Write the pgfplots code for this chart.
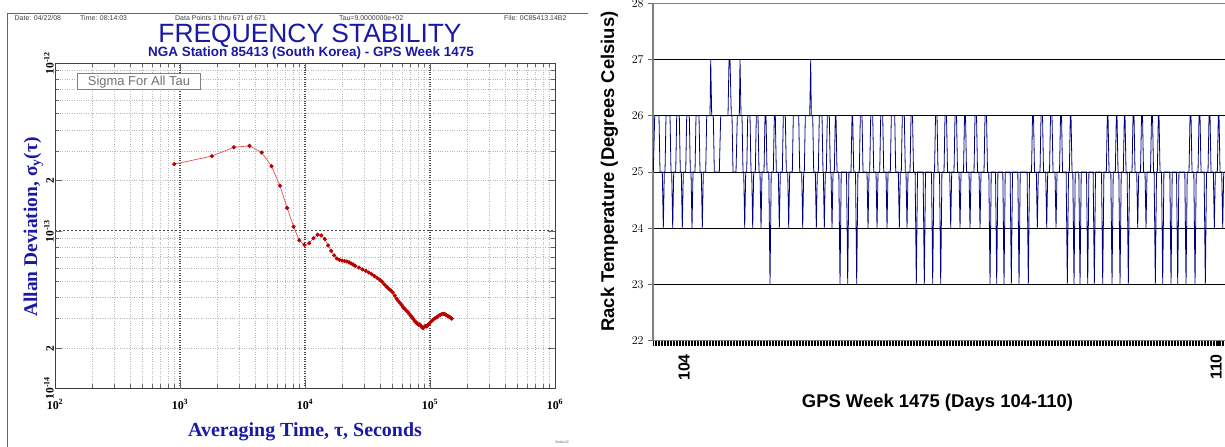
\documentclass[border=0pt]{standalone}
\usepackage{fontspec}
\setmainfont{Liberation Serif}
\newfontfamily\arial{Liberation Sans}
\usepackage{pgfplots}
\pgfplotsset{compat=1.18}
\definecolor{ttl}{RGB}{25,25,165}
\definecolor{navy}{RGB}{0,0,128}
\definecolor{dred}{RGB}{185,0,0}
\definecolor{lred}{RGB}{228,80,80}
\newcommand{\fs}[1]{\fontsize{#1}{#1}\selectfont}
\newcommand{\tp}[1]{\textbf{10\textsuperscript{#1}}}
\begin{document}
\begin{tikzpicture}[x=1bp,y=1bp]
\useasboundingbox (0,0) rectangle (1225,447);
% ---------------- left panel frame and texts
\draw[black!60, line width=0.8bp] (7,0) -- (7,434) -- (588,434);
\begin{scope}[every node/.style={anchor=base west, inner sep=0, text=black!75}]
\node at (14.5,426.5) {\arial\fs{7}Date: 04/22/08};
\node at (80,426.5) {\arial\fs{7}Time: 08:14:03};
\node at (175,426.5) {\arial\fs{7}Data Points 1 thru 671 of 671};
\node at (339,426.5) {\arial\fs{7}Tau=9.0000000e+02};
\node at (504,426.5) {\arial\fs{7}File: 0C85413.14B2};
\end{scope}
\node[anchor=base, text=ttl, inner sep=0, text height=19bp, text depth=0bp] at (310,404) {\arial\fs{26.5}FREQUENCY STABILITY};
\node[anchor=base, text=ttl, inner sep=0] at (311,390) {\arial\bfseries\fs{13.5}NGA Station 85413 (South Korea) - GPS Week 1475};
\node[rotate=90, anchor=base, text=ttl, inner sep=0] at (37,220) {\bfseries\fs{19.5}Allan Deviation, σ\textsubscript{y}(τ)};
\node[anchor=base, text=ttl, inner sep=0] at (305,10) {\bfseries\fs{20}Averaging Time, τ, Seconds};
\node[anchor=base, text=black!60, inner sep=0] at (562,3) {\arial\fs{3.5}Stable32};

\begin{axis}[
  at={(55bp,59bp)}, anchor=south west, scale only axis,
  width=500bp, height=325bp,
  xmode=log, ymode=log,
  xmin=100, xmax=1000000, ymin=1.16e-14, ymax=1e-12,
  axis line style={black!75, line width=1bp},
  tick align=inside,
  xtick={100,1000,10000,100000,1000000},
  xticklabels={\tp{2},\tp{3},\tp{4},\tp{5},\tp{6}},
  ytick={1.16e-14,2e-14,1e-13,2e-13,1e-12},
  yticklabels={\tp{-14},\textbf{2},\tp{-13},\textbf{2},\tp{-12}},
  minor xtick={200,300,400,500,600,700,800,900,2000,3000,4000,5000,6000,7000,8000,9000,20000,30000,40000,50000,60000,70000,80000,90000,200000,300000,400000,500000,600000,700000,800000,900000},
  minor ytick={2e-14,3e-14,4e-14,5e-14,6e-14,7e-14,8e-14,9e-14,2e-13,3e-13,4e-13,5e-13,6e-13,7e-13,8e-13,9e-13},
  xminorgrids, yminorgrids,
  minor grid style={black!28, dotted, line width=0.6bp},
  major tick length=7bp, minor tick length=4bp,
  tick style={black!60, line width=0.6bp},
  xticklabel style={font=\fs{12}, yshift=-8bp, text=black},
  yticklabel style={font=\fs{11.5}, rotate=90, anchor=south, inner sep=1bp, text=black},
  extra x ticks={1000,10000,100000}, extra x tick labels={},
  extra x tick style={xmajorgrids=true, major grid style={black!70, dotted, line width=1.1bp}},
  extra y ticks={1e-13}, extra y tick labels={},
  extra y tick style={ymajorgrids=true, major grid style={black!70, dash pattern=on 2bp off 2bp, line width=1bp}},
]
\addplot[lred, line width=0.7bp, mark=*, mark size=1.7bp, mark options={solid, draw=dred, fill=dred}] coordinates {
(900,2.50e-13)(1800,2.79e-13)(2700,3.15e-13)(3600,3.21e-13)(4500,2.93e-13)(5400,2.43e-13)(6300,1.86e-13)(7200,1.37e-13)(8100,1.06e-13)(9000,8.8e-14)(9900,8.25e-14)(10800,8.45e-14)(11700,9.05e-14)(12600,9.5e-14)(13500,9.4e-14)(14400,8.95e-14)(15300,8.2e-14)(16200,7.6e-14)(17100,7.15e-14)(18000,6.85e-14)(18900,6.72e-14)(19800,6.66e-14)(20700,6.62e-14)(21600,6.58e-14)(22500,6.5e-14)(23400,6.4e-14)(24300,6.3e-14)(25200,6.2e-14)(27000,6.05e-14)(28800,5.9e-14)(30600,5.78e-14)(32400,5.65e-14)(34200,5.52e-14)(36000,5.38e-14)(37800,5.25e-14)(39600,5.13e-14)(41400,4.98e-14)(43200,4.8e-14)(45000,4.65e-14)(46800,4.52e-14)(48600,4.42e-14)(50400,4.3e-14)(52200,4.12e-14)(54000,3.95e-14)(55800,3.82e-14)(57600,3.72e-14)(59400,3.62e-14)(61200,3.5e-14)(63000,3.42e-14)(64800,3.35e-14)(66600,3.28e-14)(68400,3.2e-14)(70200,3.12e-14)(72000,3.05e-14)(73800,2.98e-14)(75600,2.9e-14)(77400,2.85e-14)(79200,2.8e-14)(81000,2.76e-14)(82800,2.78e-14)(84600,2.72e-14)(86400,2.66e-14)(88200,2.64e-14)(90000,2.68e-14)(91800,2.72e-14)(93600,2.70e-14)(95400,2.74e-14)(97200,2.78e-14)(99000,2.82e-14)(102600,2.9e-14)(106200,2.97e-14)(109800,3.02e-14)(113400,3.06e-14)(117000,3.12e-14)(120600,3.16e-14)(124200,3.2e-14)(127800,3.21e-14)(131400,3.2e-14)(135000,3.15e-14)(138600,3.12e-14)(142200,3.08e-14)(145800,3.05e-14)(149400,3.0e-14)
};
\end{axis}
\node[draw=gray, fill=white, line width=1bp, anchor=west, inner sep=0, minimum width=123bp, minimum height=16bp, text=black!55] at (77,365) {\arial\fs{13}Sigma For All Tau};

% ---------------- right panel
\node[rotate=90, anchor=base, inner sep=0] at (614,275.5) {\arial\bfseries\fs{18.5}Rack Temperature (Degrees Celsius)};
\node[anchor=base, inner sep=0] at (937.5,39.7) {\arial\bfseries\fs{18.5}GPS Week 1475 (Days 104-110)};
\begin{axis}[
  at={(653bp,106.3bp)}, anchor=south west, scale only axis,
  width=573bp, height=337.4bp,
  xmin=653, xmax=1226, ymin=22, ymax=28,
  axis line style={black!50, line width=1.2bp},
  ytick={22,23,24,25,26,27,28},
  ymajorgrids, major grid style={black, line width=0.7bp},
  ytick pos=left, xtick pos=bottom, tick align=outside,
  yticklabel style={font=\arial\fs{13}, xshift=-1bp},
  y tick style={black!60, line width=0.8bp},
  xtick={653.5,655,...,1225},
  xticklabels={},
  x tick style={black, line width=0.9bp},
  major tick length=5bp,
  extra x ticks={686,1218}, extra x tick labels={104,110},
  extra x tick style={xticklabel style={font=\arial\bfseries\fs{16}, yshift=-5bp, xshift=-2bp, rotate=90, anchor=east}},
]
\addplot[navy, line width=0.8bp] coordinates {
(653.3,25)(654.7,26)(659,26)(660,25)(662.3,25)(663.3,24)(664.3,25)(665,25)
(666,26)(670,26)(671,25)(671.7,25)(672.7,24)(673.7,25)(675.7,25)
(676.7,26)(679.3,26)(680.3,25)(681.3,25)(682.3,24)(683.3,25)(685.7,25)
(686.7,26)(689.3,26)(690.3,25)(691,25)(692,24)(693,25)(695,25)
(696,26)(699,26)(700,25)(701.3,25)(702.3,24)(703.3,25)(705.7,25)
(706.7,26)(710,26)(710.7,27)(711.7,26)(713.3,26)(714.3,25)(719.3,25)
(720.7,26)(728,26)(729,27)(730,27)(731.3,26)(732,26)(733,25)(736,25)
(737.3,26)(739.3,26)(740,27)(741,26)(742,26)(743,25)(743.7,25)(744.7,24)(745.7,25)(746.7,25)
(747.7,26)(750,26)(751,25)(751.7,25)(752.7,24)(753.7,25)(755.3,25)
(756.3,26)(758,26)(759,25)(760,25)(761,24)(762,25)(764,25)
(765,26)(766,26)(767,25)(768.8,25)(770,23)(771.2,25)(773.3,25)
(774.3,26)(775.3,26)(776.3,25)(778.3,25)(779.3,24)(780.3,25)(782.3,25)
(783.3,26)(785.3,26)(786.3,25)(787.7,25)(788.7,24)(789.7,25)(792.3,25)
(793.3,26)(798.7,26)(799.7,25)(801.7,25)(802.7,24)(803.7,25)(804.3,25)
(805.3,26)(809.7,26)(810.7,27)(811.3,26)(812.7,26)(813.7,25)(815.3,25)(816.3,24)(817.3,25)(818.3,25)
(819.3,26)(822,26)(823,25)(823.3,25)(824.3,24)(825.3,25)(826.3,25)
(827.3,26)(829.3,26)(830.3,25)(831,25)(832,24)(833,25)(834.3,25)
(835.3,26)(836,26)(837,25)(838.8,25)(840,23)(841.2,25)(846.5,25)(847.7,23)(848.9,25)(851,25)
(852,26)(852.7,26)(853.7,25)(855.5,25)(856.7,23)(857.9,25)(859.3,25)
(860.3,26)(862,26)(863,25)(867,25)(868,24)(869,25)(869.7,25)
(870.7,26)(872.7,26)(873.7,25)(876,25)(877,24)(878,25)(879.7,25)
(880.7,26)(882.7,26)(883.7,25)(886,25)(887,24)(888,25)(890.3,25)
(891.3,26)(894.7,26)(895.7,25)(898.3,25)(899.3,24)(900.3,25)(901.3,25)
(902.3,26)(904.3,26)(905.3,25)(906,25)(907,24)(908,25)(910,25)
(911,26)(912.5,26)(913.5,25)(915.1,25)(916.3,23)(917.5,25)(923.1,25)(924.3,23)(925.5,25)(931.5,25)(932.7,23)(933.9,25)(934.5,25)
(935.5,26)(937,26)(938,25)(939.5,25)(940.7,23)(941.9,25)(944,25)
(945,26)(946.5,26)(947.5,25)(949.7,25)(950.7,24)(951.7,25)(954,25)
(955,26)(956.5,26)(957.5,25)(959,25)(960,24)(961,25)(963.5,25)
(964.5,26)(965.5,26)(966.5,25)(969,25)(970,24)(971,25)(974,25)
(975,26)(976.5,26)(977.5,25)(979,25)(980,24)(981,25)(984,25)
(985,26)(986.5,26)(987.5,25)(988.8,25)(990,23)(991.2,25)(995.5,25)(996.7,23)(997.9,25)(1002.8,25)(1004,23)(1005.2,25)(1010.1,25)(1011.3,23)(1012.5,25)(1017.8,25)(1019,23)(1020.2,25)(1027.1,25)(1028.3,23)(1029.5,25)(1031.5,25)
(1032.5,26)(1033.5,26)(1034.5,25)(1036.3,25)(1037.3,24)(1038.3,25)(1040,25)
(1041,26)(1042.5,26)(1043.5,25)(1045.7,25)(1046.7,24)(1047.7,25)(1049.5,25)
(1050.5,26)(1052,26)(1053,25)(1055,25)(1056,24)(1057,25)(1059.5,25)
(1060.5,26)(1061.5,26)(1062.5,25)(1066.1,25)(1067.3,23)(1068.5,25)(1069.3,25)
(1070.3,26)(1071,26)(1072,25)(1072.8,25)(1074,23)(1075.2,25)(1078.8,25)(1080,23)(1081.2,25)(1086.5,25)(1087.7,23)(1088.9,25)(1093.1,25)(1094.3,23)(1095.5,25)(1101.5,25)(1102.7,23)(1103.9,25)(1106.3,25)
(1107.3,26)(1108,26)(1109,25)(1110.8,25)(1112,23)(1113.2,25)(1115.3,25)
(1116.3,26)(1117,26)(1118,25)(1118.8,25)(1120,23)(1121.2,25)(1123.3,25)
(1124.3,26)(1125,26)(1126,25)(1127.1,25)(1128.3,23)(1129.5,25)(1132,25)
(1133,26)(1134,26)(1135,25)(1136.7,25)(1137.7,24)(1138.7,25)(1140.5,25)
(1141.5,26)(1142.5,26)(1143.5,25)(1145,25)(1146,24)(1147,25)(1150.5,25)
(1151.5,26)(1152.5,26)(1153.5,25)(1154.1,25)(1155.3,23)(1156.5,25)(1157.3,25)
(1158.3,26)(1159,26)(1160,25)(1161.5,25)(1162.7,23)(1163.9,25)(1169.8,25)(1171,23)(1172.2,25)(1176.5,25)(1177.7,23)(1178.9,25)(1184.8,25)(1186,23)(1187.2,25)(1189,25)
(1190,26)(1191,26)(1192,25)(1193.8,25)(1195,23)(1196.2,25)(1198,25)
(1199,26)(1200,26)(1201,25)(1204.1,25)(1205.3,23)(1206.5,25)(1208,25)
(1209,26)(1210,26)(1211,25)(1213.3,25)(1214.3,24)(1215.3,25)(1217.3,25)
(1218.3,26)(1219,26)(1220,25)(1221.7,25)(1222.7,24)(1223.7,25)(1225,25)
};
\end{axis}
\end{tikzpicture}
\end{document}
